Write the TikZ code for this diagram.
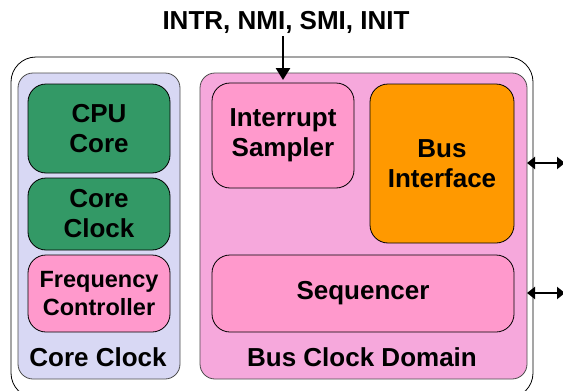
\documentclass[tikz,border=0pt]{standalone}
\usepackage{fontspec}
\setmainfont{Liberation Sans}
\usetikzlibrary{arrows.meta}
\definecolor{cgreen}{HTML}{339966}
\definecolor{cpink}{HTML}{FF99CC}
\definecolor{corange}{HTML}{FF9900}
\definecolor{cdomblue}{HTML}{D8D8F4}
\definecolor{cdompink}{HTML}{F6A8DC}
\begin{document}
\begin{tikzpicture}[x=1pt,y=-1pt,
  blk/.style={draw=black, line width=0.8pt, rounded corners=18pt, inner sep=0pt, align=center,
    font=\fontsize{26}{30}\selectfont\bfseries},
  dom/.style={draw=black!70, line width=0.8pt, rounded corners=15pt},
  lbl/.style={font=\fontsize{26}{30}\selectfont\bfseries, inner sep=0pt},
  arr/.style={line width=2.7pt, {Triangle[length=8pt,width=12pt]}-{Triangle[length=8pt,width=12pt]}}
]
\useasboundingbox (0,0) rectangle (563,391);
\fill[white] (0,0) rectangle (563,391);
% outer box
\draw[line width=0.8pt, rounded corners=25pt] (11,57) rectangle (533,398);
% domains
\draw[dom, fill=cdomblue] (18,73) rectangle (180,379);
\draw[dom, fill=cdompink] (200,73) rectangle (527,379);
% blocks
\node[blk, fill=cgreen, minimum width=142pt, minimum height=89pt] (cpu) at (99,128.5) {CPU\\Core};
\node[blk, fill=cgreen, minimum width=142pt, minimum height=72pt] (cclk) at (99,214) {Core\\Clock};
\node[blk, fill=cpink, minimum width=142pt, minimum height=77pt, font=\fontsize{23.5}{28}\selectfont\bfseries] (freq) at (99,293.5) {Frequency\\Controller};
\node[blk, fill=cpink, minimum width=142pt, minimum height=105pt] (isamp) at (283,135.5) {Interrupt\\Sampler};
\node[blk, fill=corange, minimum width=144pt, minimum height=159pt] (busif) at (442,163.5) {Bus\\Interface};
\node[blk, fill=cpink, minimum width=302pt, minimum height=77pt] (seq) at (363,293.5) {Sequencer};
% domain labels
\node[lbl] (corelbl) at (98,357) {Core Clock};
\node[lbl] (buslbl) at (362,357) {Bus Clock Domain};
% top label and arrow
\node[lbl] (intr) at (286,22) {INTR, NMI, SMI, INIT};
\coordinate (intrtop) at (283,36);
\coordinate (intrtip) at (283,80);
\draw[line width=2.7pt, -{Triangle[length=12pt,width=14pt]}] (intrtop) -- (intrtip);
% side arrows
\coordinate (r1) at (565,163);
\coordinate (r2) at (565,293);
\draw[arr] (527,163) -- (r1);
\draw[arr] (527,293) -- (r2);
\end{tikzpicture}
\end{document}
